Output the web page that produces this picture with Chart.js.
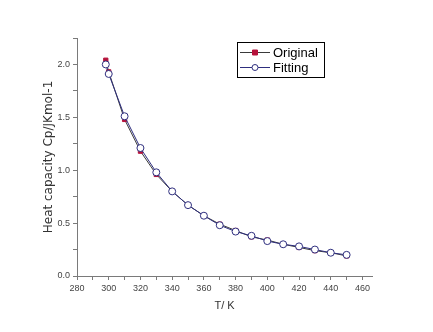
<!DOCTYPE html>
<html>
<head>
<meta charset="utf-8">
<script src="https://cdn.jsdelivr.net/npm/chart.js@4/dist/chart.umd.min.js"></script>
<style>
  html, body { margin: 0; padding: 0; background: #fff; }
  #cv { display: block; }
</style>
</head>
<body>
<canvas id="cv" width="433" height="332"></canvas>
<script>
// temperatures (K) and heat capacity values
const temps = [298.15, 300, 310, 320, 330, 340, 350, 360, 370, 380, 390, 400, 410, 420, 430, 440, 450]
const original = [2.04, 1.93, 1.48, 1.18, 0.96, 0.80, 0.67, 0.57, 0.49, 0.43, 0.37, 0.34, 0.30, 0.27, 0.24, 0.22, 0.19]
const fitting = [2.00, 1.91, 1.51, 1.21, 0.98, 0.80, 0.67, 0.57, 0.48, 0.42, 0.38, 0.33, 0.30, 0.28, 0.25, 0.22, 0.20]
const seriesNames = ["Original", "Fitting"]
const xTitle = "T/ K"
const yTitle = "Heat capacity Cp/JKmol-1"

const AXIS_COLOR = "#7a7a7a"
const ORIG_COLOR = "#b5123a"
const FIT_COLOR = "#2e2e7e"
const SANS = "'Liberation Sans', Arial, sans-serif"

const toPoints = (xs, ys) => xs.map((x, i) => ({ x: x, y: ys[i] }))

/**
 * Origin style legend box, drawn after the chart
 */
const boxLegend = {
  id: "boxLegend",
  afterDraw(chart) {
    const ctx = chart.ctx
    const x0 = 237, y0 = 42, w = 87, h = 35
    ctx.save()
    ctx.strokeStyle = "#000"
    ctx.lineWidth = 1
    ctx.strokeRect(x0 + 0.5, y0 + 0.5, w, h)
    ctx.font = "13px " + SANS
    ctx.textBaseline = "middle"
    seriesNames.forEach((name, i) => {
      const ds = chart.data.datasets.find(d => d.label == name)
      const cy = y0 + 10 + i * 15
      ctx.strokeStyle = ds.borderColor
      ctx.beginPath()
      ctx.moveTo(x0 + 3, cy + 0.5)
      ctx.lineTo(x0 + 33, cy + 0.5)
      ctx.stroke()
      ctx.fillStyle = ds.pointBackgroundColor
      ctx.strokeStyle = ds.pointBorderColor
      ctx.beginPath()
      if (ds.pointStyle == "rect") ctx.rect(x0 + 15.5, cy - 2, 5, 5)
      else ctx.arc(x0 + 18, cy + 0.5, 3, 0, Math.PI * 2)
      ctx.fill()
      ctx.stroke()
      ctx.fillStyle = "#000"
      ctx.fillText(ds.label, x0 + 36, cy + 1)
    })
    ctx.restore()
  }
}

function setup() {
  const ctx = document.getElementById("cv").getContext("2d")
  new Chart(ctx, {
    type: "scatter",
    data: {
      datasets: [{
        label: seriesNames[1],
        data: toPoints(temps, fitting),
        showLine: true,
        borderColor: FIT_COLOR,
        borderWidth: 1,
        pointStyle: "circle",
        pointRadius: 3.5,
        pointBackgroundColor: "#fff",
        pointBorderColor: FIT_COLOR,
        pointBorderWidth: 1,
        order: 0
      }, {
        label: seriesNames[0],
        data: toPoints(temps, original),
        showLine: true,
        borderColor: "#3a3a3a",
        borderWidth: 1,
        pointStyle: "rect",
        pointRadius: 3,
        pointBackgroundColor: ORIG_COLOR,
        pointBorderColor: ORIG_COLOR,
        pointBorderWidth: 1,
        order: 1
      }]
    },
    options: {
      responsive: false,
      animation: false,
      layout: { padding: { top: 38, right: 61, left: 0, bottom: 0 } },
      plugins: { legend: { display: false }, tooltip: { enabled: false } },
      scales: {
        x: {
          type: "linear",
          min: 280,
          max: 466,
          afterFit: s => { s.height = 56 },
          border: { color: AXIS_COLOR, width: 1 },
          grid: { drawOnChartArea: false, color: AXIS_COLOR, tickLength: 4 },
          ticks: {
            stepSize: 10,
            includeBounds: false,
            autoSkip: false,
            maxRotation: 0,
            padding: 3,
            color: "#444",
            font: { family: SANS, size: 9 },
            callback: v => (v % 20 == 0 ? v : "")
          },
          title: {
            display: true,
            text: xTitle,
            color: "#333",
            font: { family: SANS, size: 11 },
            padding: { top: 0, bottom: 19 }
          }
        },
        y: {
          type: "linear",
          min: 0,
          max: 2.25,
          afterFit: s => { s.width = 77 },
          border: { color: AXIS_COLOR, width: 1 },
          grid: { drawOnChartArea: false, color: AXIS_COLOR, tickLength: 4 },
          ticks: {
            stepSize: 0.25,
            autoSkip: false,
            padding: 3,
            color: "#444",
            font: { family: SANS, size: 9 },
            callback: v => (Math.abs(v * 2 - Math.round(v * 2)) < 1e-6 ? v.toFixed(1) : "")
          },
          title: {
            display: true,
            text: yTitle,
            color: "#333",
            font: { family: "'DejaVu Sans', sans-serif", size: 12 },
            padding: { top: 42, bottom: 0 }
          }
        }
      }
    },
    plugins: [boxLegend]
  })
}

setup()
</script>
</body>
</html>
